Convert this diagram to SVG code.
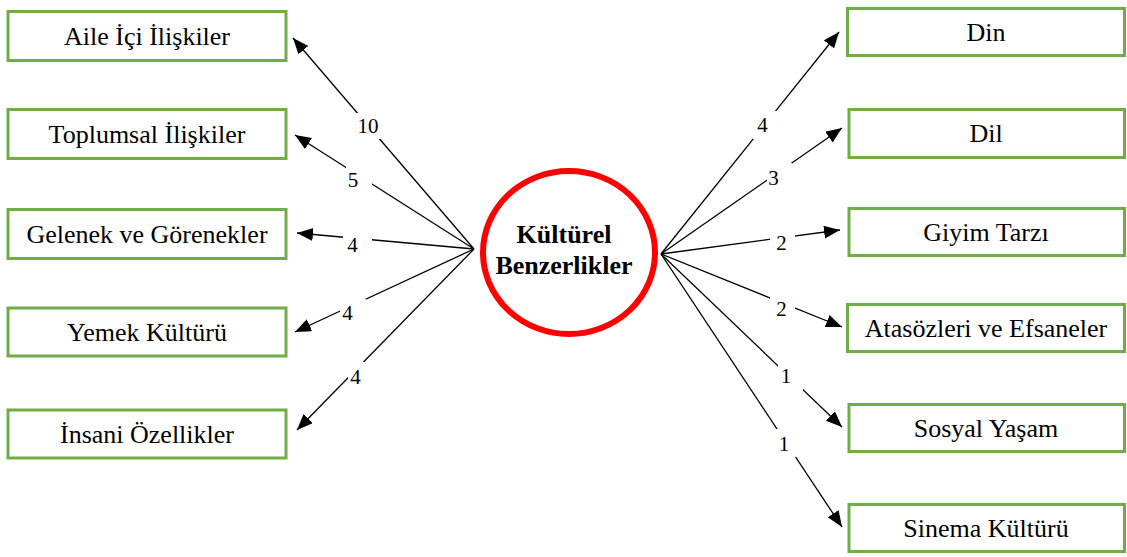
<svg xmlns="http://www.w3.org/2000/svg" width="1127" height="557" viewBox="0 0 1127 557">
<style>
.box{fill:#fff;stroke:#70AD47;stroke-width:3}
.bt{font-family:'Liberation Serif','DejaVu Serif',serif;font-size:26px;fill:#000;text-anchor:middle}
.ct{font-family:'Liberation Serif','DejaVu Serif',serif;font-size:26px;font-weight:bold;fill:#000;text-anchor:middle}
.ln{stroke:#000;stroke-width:1.3;fill:none;marker-end:url(#ah)}
.lb{fill:#fff}
.lt{font-family:'Liberation Serif','DejaVu Serif',serif;font-size:21px;fill:#000;text-anchor:middle}
</style>
<defs>
<marker id="ah" markerUnits="userSpaceOnUse" markerWidth="17" markerHeight="14" refX="16" refY="6.5" orient="auto">
<path d="M0,0 L16,6.5 L0,13 z" fill="#000"/>
</marker>
</defs>
<rect width="1127" height="557" fill="#fff"/>
<g id="connectors">
<line class="ln" x1="474" y1="249" x2="293" y2="38"/>
<line class="ln" x1="474" y1="249" x2="295" y2="135"/>
<line class="ln" x1="474" y1="249" x2="297" y2="233"/>
<line class="ln" x1="474" y1="249" x2="295" y2="332"/>
<line class="ln" x1="474" y1="249" x2="297" y2="430"/>
<line class="ln" x1="661" y1="254" x2="839" y2="32"/>
<line class="ln" x1="661" y1="254" x2="842" y2="128"/>
<line class="ln" x1="661" y1="254" x2="840" y2="230"/>
<line class="ln" x1="661" y1="254" x2="842" y2="327"/>
<line class="ln" x1="661" y1="254" x2="842" y2="427"/>
<line class="ln" x1="661" y1="254" x2="842" y2="527"/>
<rect class="lb" x="355" y="113" width="26" height="26"/><text class="lt" x="368" y="132.5">10</text>
<rect class="lb" x="346" y="167" width="26" height="27"/><text class="lt" x="353" y="187">5</text>
<rect class="lb" x="343" y="229" width="29" height="29"/><text class="lt" x="352.5" y="252">4</text>
<rect class="lb" x="340" y="299" width="26" height="28"/><text class="lt" x="347.5" y="320">4</text>
<rect class="lb" x="348" y="362" width="25" height="29"/><text class="lt" x="355.5" y="384">4</text>
<rect class="lb" x="753" y="111" width="27" height="28"/><text class="lt" x="762.5" y="132">4</text>
<rect class="lb" x="767" y="163" width="25" height="28"/><text class="lt" x="773.5" y="185">3</text>
<rect class="lb" x="770" y="228" width="25" height="29"/><text class="lt" x="781.5" y="250">2</text>
<rect class="lb" x="770" y="295" width="25" height="28"/><text class="lt" x="781.5" y="316">2</text>
<rect class="lb" x="778" y="362" width="25" height="29"/><text class="lt" x="786" y="383">1</text>
<rect class="lb" x="772" y="429" width="25" height="28"/><text class="lt" x="784" y="451">1</text>
</g>
<g id="center">
<ellipse cx="569" cy="252.5" rx="86" ry="81.5" fill="none" stroke="#FF0000" stroke-width="6"/>
<text class="ct" x="564" y="243">Kültürel</text>
<text class="ct" x="564" y="274">Benzerlikler</text>
</g>
<g id="n-aile"><rect class="box" x="8" y="11.5" width="278" height="49"/><text class="bt" x="147" y="45">Aile İçi İlişkiler</text></g>
<g id="n-toplumsal"><rect class="box" x="8" y="109.5" width="278" height="49"/><text class="bt" x="147" y="143">Toplumsal İlişkiler</text></g>
<g id="n-gelenek"><rect class="box" x="8" y="209.5" width="278" height="49"/><text class="bt" x="147" y="243">Gelenek ve Görenekler</text></g>
<g id="n-yemek"><rect class="box" x="8" y="308" width="278" height="48"/><text class="bt" x="147" y="341">Yemek Kültürü</text></g>
<g id="n-insani"><rect class="box" x="8" y="410" width="278" height="48"/><text class="bt" x="147" y="443">İnsani Özellikler</text></g>
<g id="n-din"><rect class="box" x="847.5" y="8.5" width="277" height="47"/><text class="bt" x="986" y="41">Din</text></g>
<g id="n-dil"><rect class="box" x="849" y="109.5" width="275.5" height="48"/><text class="bt" x="986" y="142">Dil</text></g>
<g id="n-giyim"><rect class="box" x="849" y="208.5" width="275.5" height="47"/><text class="bt" x="986" y="241">Giyim Tarzı</text></g>
<g id="n-atasoz"><rect class="box" x="847.5" y="304.5" width="277" height="47"/><text class="bt" x="986" y="337">Atasözleri ve Efsaneler</text></g>
<g id="n-sosyal"><rect class="box" x="849" y="404.5" width="275.5" height="47"/><text class="bt" x="986" y="437">Sosyal Yaşam</text></g>
<g id="n-sinema"><rect class="box" x="849" y="504.5" width="275.5" height="47"/><text class="bt" x="986" y="537">Sinema Kültürü</text></g>
</svg>
